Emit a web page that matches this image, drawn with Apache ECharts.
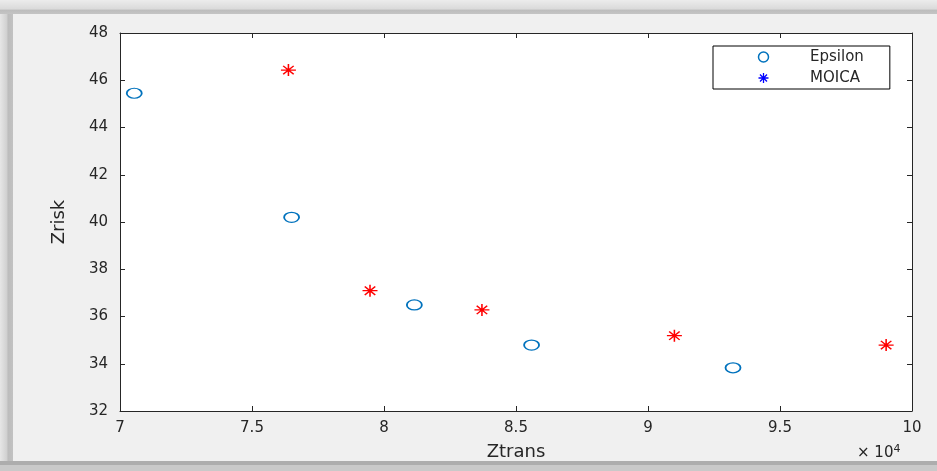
<!DOCTYPE html>
<html lang="en">
<head>
    <meta charset="UTF-8">
    <title>Ztrans vs Zrisk</title>
    <script src="https://cdn.jsdelivr.net/npm/echarts@6/dist/echarts.min.js"></script>
    <style>
        body {
            margin: 0;
            padding: 0;
            overflow: hidden;
        }
    </style>
</head>
<body>
    <div id="main" style="width: 937px;height:471px;"></div>
<script>
    var epsilonTrans = [70540, 76500, 81150, 85590, 93220];
    var epsilonRisk = [45.45, 40.20, 36.49, 34.79, 33.83];
    var moicaTrans = [76380, 79470, 83710, 91000, 99020];
    var moicaRisk = [46.43, 37.09, 36.28, 35.19, 34.79];

    var xTicks = [70000, 100000, 5000];
    var yTicks = [32, 48, 2];

    var textColor = '#262626';
    var font = 'DejaVu Sans';
    var starPath = 'path://M10,0L10,20M0,10L20,10M3,3L17,17M3,17L17,3';

    function pairs(xs, ys) {
        var out = [];
        for (var i = 0; i < xs.length; i++) {
            out.push([xs[i], ys[i]]);
        }
        return out;
    }

    var chart = echarts.init(document.getElementById('main'));

    var boxAxis = {
        show: true,
        lineStyle: { color: textColor, width: 1 }
    };
    var inTicks = {
        show: true,
        inside: true,
        length: 5,
        lineStyle: { color: textColor, width: 1 }
    };

    option = {
        backgroundColor: '#f0f0f0',
        animation: false,
        grid: {
            left: 120,
            right: 25,
            top: 33,
            bottom: 60,
            show: true,
            backgroundColor: '#ffffff',
            borderWidth: 0
        },
        // window frame shading like the screenshot
        graphic: [{
            type: 'rect',
            shape: { x: 0, y: 0, width: 13, height: 471 },
            style: {
                fill: {
                    type: 'linear', x: 0, y: 0, x2: 1, y2: 0,
                    colorStops: [{ offset: 0, color: '#e6e6e6' }, { offset: 0.55, color: '#cfcfcf' }, { offset: 0.6, color: '#bcbcbc' }, { offset: 1, color: '#c2c2c2' }]
                }
            }
        }, {
            type: 'rect',
            shape: { x: 0, y: 0, width: 937, height: 14 },
            style: {
                fill: {
                    type: 'linear', x: 0, y: 0, x2: 0, y2: 1,
                    colorStops: [{ offset: 0, color: '#ececec' }, { offset: 0.65, color: '#dadada' }, { offset: 0.72, color: '#bdbdbd' }, { offset: 1, color: '#c4c4c4' }]
                }
            }
        }, {
            type: 'rect',
            shape: { x: 0, y: 461, width: 937, height: 4 },
            style: { fill: '#adadad' }
        }, {
            type: 'rect',
            shape: { x: 0, y: 465, width: 937, height: 6 },
            style: { fill: '#c9c9c9' }
        }, {
            type: 'text',
            left: 857,
            top: 444,
            style: {
                text: '\u00d7 10{sup|4}',
                fill: textColor,
                font: '15px "DejaVu Sans"',
                rich: {
                    sup: { fontSize: 11, fontFamily: font, fill: textColor, verticalAlign: 'top', padding: [0, 0, 8, 0] }
                }
            }
        }],
        legend: {
            orient: 'vertical',
            left: 713,
            top: 46,
            padding: [3, 26, 3, 43],
            itemWidth: 15,
            itemHeight: 10,
            itemGap: 5,
            backgroundColor: '#ffffff',
            borderColor: '#000000',
            borderWidth: 1,
            textStyle: {
                fontFamily: font,
                fontSize: 15,
                color: textColor,
                lineHeight: 16,
                padding: [0, 0, 0, 34]
            },
            data: [{
                name: 'Epsilon',
                icon: 'circle',
                itemStyle: { color: 'none', borderColor: '#0072BD', borderWidth: 1.5 }
            }, {
                name: 'MOICA',
                icon: starPath,
                itemStyle: { color: 'none', borderColor: '#0000ff', borderWidth: 1.3 }
            }]
        },
        xAxis: [{
            type: 'value',
            min: xTicks[0],
            max: xTicks[1],
            interval: xTicks[2],
            name: 'Ztrans',
            nameLocation: 'middle',
            nameGap: 32,
            nameTextStyle: { fontFamily: font, fontSize: 18, color: textColor },
            axisLine: boxAxis,
            axisTick: inTicks,
            splitLine: { show: false },
            axisLabel: {
                fontFamily: font,
                fontSize: 15,
                color: textColor,
                margin: 10,
                formatter: function(value) {
                    return String(value / 10000);
                }
            }
        }, {
            type: 'value',
            position: 'top',
            min: xTicks[0],
            max: xTicks[1],
            interval: xTicks[2],
            axisLine: boxAxis,
            axisTick: inTicks,
            axisLabel: { show: false },
            splitLine: { show: false }
        }],
        yAxis: [{
            type: 'value',
            min: yTicks[0],
            max: yTicks[1],
            interval: yTicks[2],
            name: 'Zrisk',
            nameLocation: 'middle',
            nameGap: 52,
            nameTextStyle: { fontFamily: font, fontSize: 18, color: textColor },
            axisLine: boxAxis,
            axisTick: inTicks,
            splitLine: { show: false },
            axisLabel: {
                fontFamily: font,
                fontSize: 15,
                color: textColor,
                margin: 12
            }
        }, {
            type: 'value',
            position: 'right',
            min: yTicks[0],
            max: yTicks[1],
            interval: yTicks[2],
            axisLine: boxAxis,
            axisTick: inTicks,
            axisLabel: { show: false },
            splitLine: { show: false }
        }],
        series: [{
            name: 'Epsilon',
            type: 'scatter',
            xAxisIndex: 0,
            yAxisIndex: 0,
            symbol: 'circle',
            symbolSize: [15, 10],
            itemStyle: { color: 'none', borderColor: '#0072BD', borderWidth: 1.5, opacity: 1 },
            data: pairs(epsilonTrans, epsilonRisk)
        }, {
            name: 'MOICA',
            type: 'scatter',
            xAxisIndex: 0,
            yAxisIndex: 0,
            symbol: starPath,
            symbolSize: [15, 12],
            itemStyle: { color: 'none', borderColor: '#ff0000', borderWidth: 1.4, opacity: 1 },
            data: pairs(moicaTrans, moicaRisk)
        }]
    };
    chart.setOption(option);
</script>
</body>
</html>
